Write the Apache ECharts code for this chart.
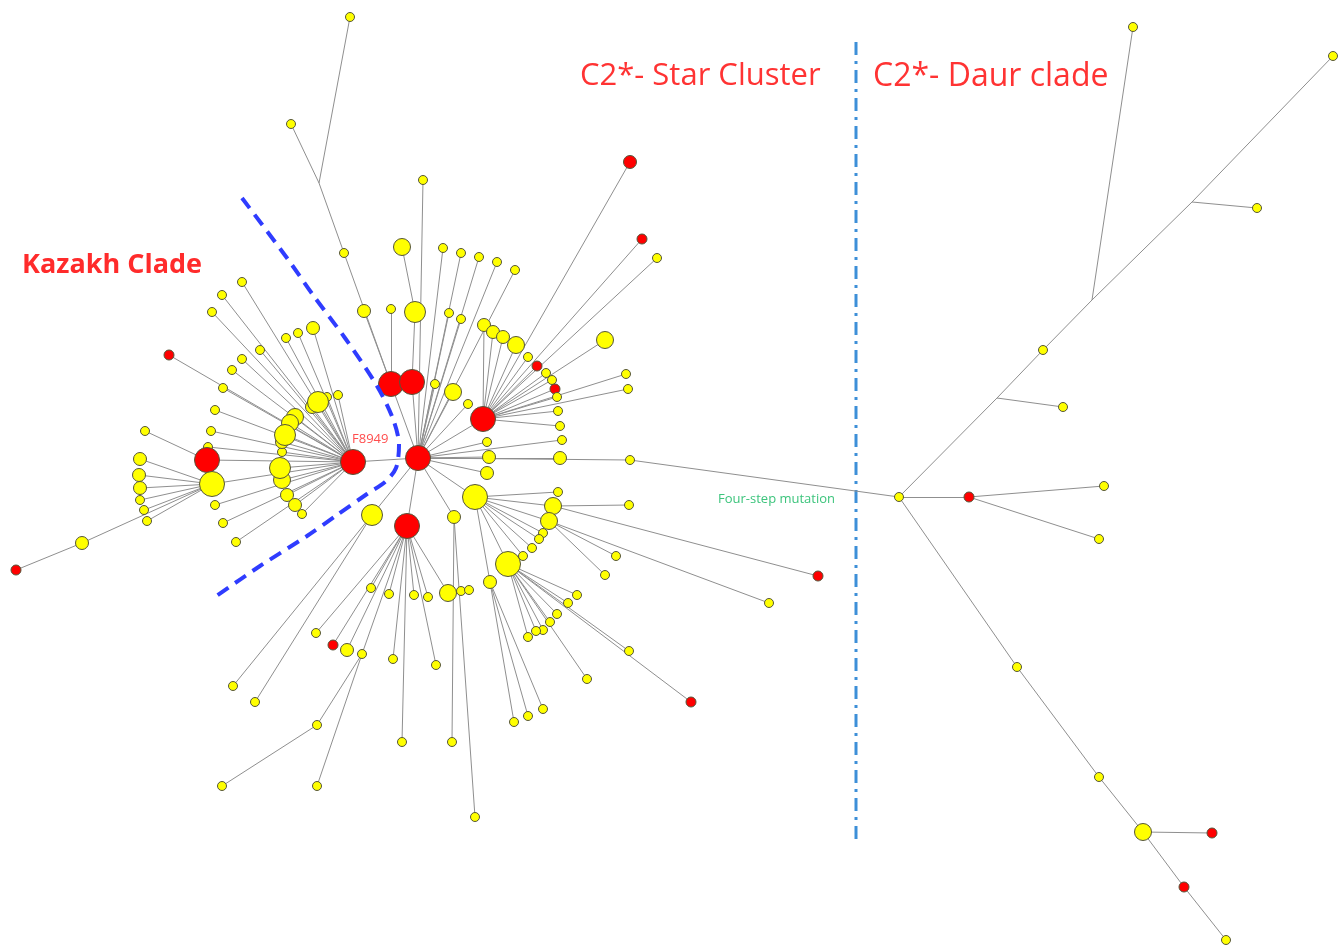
<!DOCTYPE html>
<html>
<head>
<meta charset="utf-8">
<script src="https://cdn.jsdelivr.net/npm/echarts@6/dist/echarts.min.js"></script>
<style>
  html, body { margin: 0; padding: 0; background: #fff; }
  #net { width: 1339px; height: 946px; }
</style>
</head>
<body>
<div id="net"></div>
<script>
// haplotype rows: id, x, y, count (sample frequency), class (Y = yellow, R = red, M = median vector), parent
var starCluster = [
    ['H0', 418, 458, 5, 'R', null],
    ['RP1', 391, 384, 5, 'R', 'H0'],
    ['RP2', 412, 382, 5, 'R', 'H0'],
    ['R3', 483, 419, 5, 'R', 'H0'],
    ['R4', 407, 526, 5, 'R', 'H0'],
    ['Y4', 475, 497, 5, 'Y', 'H0'],
    ['Y5', 508, 564, 5, 'Y', 'Y4'],
    ['YL', 372, 515, 4, 'Y', 'H0'],
    ['YB', 415, 312, 4, 'Y', 'RP2'],
    ['s1', 402, 247, 3, 'Y', 'YB'],
    ['s2', 423, 180, 1, 'Y', 'H0'],
    ['s3', 391, 309, 1, 'Y', 'RP1'],
    ['s4', 364, 311, 2, 'Y', 'RP1'],
    ['s5', 344, 253, 1, 'Y', 'RP1'],
    ['m0', 319, 183, 0, 'M', 's5'],
    ['s6', 350, 17, 1, 'Y', 'm0'],
    ['s7', 291, 124, 1, 'Y', 'm0'],
    ['s8', 443, 248, 1, 'Y', 'H0'],
    ['s9', 461, 253, 1, 'Y', 'H0'],
    ['s10', 479, 257, 1, 'Y', 'H0'],
    ['s11', 497, 262, 1, 'Y', 'H0'],
    ['s12', 515, 270, 1, 'Y', 'H0'],
    ['s13', 449, 313, 1, 'Y', 'H0'],
    ['s14', 461, 319, 1, 'Y', 'H0'],
    ['s15', 453, 392, 3, 'Y', 'H0'],
    ['s16', 435, 384, 1, 'Y', 'H0'],
    ['s17', 468, 404, 1, 'Y', 'H0'],
    ['s18', 484, 325, 2, 'Y', 'R3'],
    ['s19', 493, 332, 2, 'Y', 'R3'],
    ['s20', 503, 337, 2, 'Y', 'R3'],
    ['s21', 516, 345, 3, 'Y', 'R3'],
    ['s22', 528, 357, 1, 'Y', 'R3'],
    ['s23', 537, 366, 1, 'R', 'R3'],
    ['s24', 546, 373, 1, 'Y', 'R3'],
    ['s25', 552, 380, 1, 'Y', 'R3'],
    ['s26', 555, 389, 1, 'R', 'R3'],
    ['s27', 557, 397, 1, 'Y', 'R3'],
    ['s28', 558, 411, 1, 'Y', 'R3'],
    ['s29', 630, 162, 2, 'R', 'R3'],
    ['s30', 642, 239, 1, 'R', 'R3'],
    ['s31', 657, 258, 1, 'Y', 'R3'],
    ['s32', 605, 340, 3, 'Y', 'R3'],
    ['s33', 626, 374, 1, 'Y', 'R3'],
    ['s34', 628, 389, 1, 'Y', 'R3'],
    ['s35', 560, 426, 1, 'Y', 'R3'],
    ['s36', 562, 440, 1, 'Y', 'H0'],
    ['s37', 487, 442, 1, 'Y', 'H0'],
    ['s38', 489, 457, 2, 'Y', 'H0'],
    ['s39', 487, 473, 2, 'Y', 'H0'],
    ['s40', 560, 458, 2, 'Y', 'H0'],
    ['s41', 630, 460, 1, 'Y', 'H0'],
    ['s42', 558, 492, 1, 'Y', 'Y4'],
    ['s43', 553, 506, 3, 'Y', 'Y4'],
    ['s44', 549, 521, 3, 'Y', 'Y4'],
    ['s45', 543, 533, 1, 'Y', 'Y4'],
    ['s46', 539, 539, 1, 'Y', 'Y4'],
    ['s47', 532, 548, 1, 'Y', 'Y4'],
    ['s48', 523, 556, 1, 'Y', 'Y4'],
    ['s49', 629, 505, 1, 'Y', 's43'],
    ['s50', 818, 576, 1, 'R', 's43'],
    ['s51', 769, 603, 1, 'Y', 's44'],
    ['s52', 616, 556, 1, 'Y', 's44'],
    ['s53', 605, 575, 1, 'Y', 's44'],
    ['s54', 577, 595, 1, 'Y', 'Y5'],
    ['s55', 568, 603, 1, 'Y', 'Y5'],
    ['s56', 557, 614, 1, 'Y', 'Y5'],
    ['s57', 550, 622, 1, 'Y', 'Y5'],
    ['s58', 543, 630, 1, 'Y', 'Y5'],
    ['s59', 536, 631, 1, 'Y', 'Y5'],
    ['s60', 528, 637, 1, 'Y', 'Y5'],
    ['s61', 587, 679, 1, 'Y', 'Y5'],
    ['s62', 629, 651, 1, 'Y', 'Y5'],
    ['s63', 691, 702, 1, 'R', 'Y5'],
    ['s64', 490, 582, 2, 'Y', 'Y4'],
    ['s65', 543, 709, 1, 'Y', 's64'],
    ['s66', 528, 716, 1, 'Y', 's64'],
    ['s67', 514, 722, 1, 'Y', 's64'],
    ['s68', 454, 517, 2, 'Y', 'H0'],
    ['s69', 475, 817, 1, 'Y', 's68'],
    ['s70', 452, 742, 1, 'Y', 's68'],
    ['s71', 371, 588, 1, 'Y', 'R4'],
    ['s72', 389, 594, 1, 'Y', 'R4'],
    ['s73', 414, 595, 1, 'Y', 'R4'],
    ['s74', 428, 597, 1, 'Y', 'R4'],
    ['s75', 448, 593, 3, 'Y', 'R4'],
    ['s76', 461, 591, 1, 'Y', 's75'],
    ['s77', 469, 590, 1, 'Y', 's75'],
    ['s78', 316, 633, 1, 'Y', 'R4'],
    ['s79', 333, 645, 1, 'R', 'R4'],
    ['s80', 347, 650, 2, 'Y', 'R4'],
    ['s81', 362, 654, 1, 'Y', 'R4'],
    ['s82', 393, 659, 1, 'Y', 'R4'],
    ['s83', 436, 665, 1, 'Y', 'R4'],
    ['s84', 402, 742, 1, 'Y', 'R4'],
    ['s85', 317, 725, 1, 'Y', 's81'],
    ['s86', 222, 786, 1, 'Y', 's85'],
    ['s87', 317, 786, 1, 'Y', 's81'],
    ['s88', 233, 686, 1, 'Y', 'YL'],
    ['s89', 255, 702, 1, 'Y', 'YL']
];

var kazakhClade = [
    ['F8949', 353, 462, 5, 'R', 'H0'],
    ['k1', 318, 402, 4, 'Y', 'F8949'],
    ['k2', 295, 417, 3, 'Y', 'F8949'],
    ['k3', 290, 423, 3, 'Y', 'F8949'],
    ['k4', 285, 435, 4, 'Y', 'F8949'],
    ['k5', 282, 442, 2, 'Y', 'F8949'],
    ['k6', 282, 452, 1, 'Y', 'F8949'],
    ['k7', 280, 468, 4, 'Y', 'F8949'],
    ['k8', 282, 480, 3, 'Y', 'F8949'],
    ['k9', 287, 495, 2, 'Y', 'F8949'],
    ['k10', 295, 505, 2, 'Y', 'F8949'],
    ['k11', 302, 514, 1, 'Y', 'F8949'],
    ['k12', 327, 397, 1, 'Y', 'F8949'],
    ['k13', 338, 395, 1, 'Y', 'F8949'],
    ['k14', 312, 407, 2, 'Y', 'F8949'],
    ['k15', 242, 282, 1, 'Y', 'F8949'],
    ['k16', 222, 295, 1, 'Y', 'F8949'],
    ['k17', 212, 312, 1, 'Y', 'F8949'],
    ['k18', 286, 338, 1, 'Y', 'F8949'],
    ['k19', 298, 333, 1, 'Y', 'F8949'],
    ['k20', 313, 328, 2, 'Y', 'F8949'],
    ['k21', 260, 350, 1, 'Y', 'F8949'],
    ['k22', 242, 359, 1, 'Y', 'F8949'],
    ['k23', 232, 370, 1, 'Y', 'F8949'],
    ['k24', 223, 388, 1, 'Y', 'F8949'],
    ['k25', 215, 410, 1, 'Y', 'F8949'],
    ['k26', 211, 431, 1, 'Y', 'F8949'],
    ['k27', 169, 355, 1, 'R', 'F8949'],
    ['k28', 208, 447, 1, 'Y', 'F8949'],
    ['KR', 207, 460, 5, 'R', 'F8949'],
    ['KY', 212, 484, 5, 'Y', 'F8949'],
    ['k29', 215, 505, 1, 'Y', 'F8949'],
    ['k30', 223, 523, 1, 'Y', 'F8949'],
    ['k31', 236, 542, 1, 'Y', 'F8949'],
    ['k32', 145, 431, 1, 'Y', 'KR'],
    ['k33', 140, 459, 2, 'Y', 'KY'],
    ['k34', 139, 475, 2, 'Y', 'KY'],
    ['k35', 140, 488, 2, 'Y', 'KY'],
    ['k36', 140, 500, 1, 'Y', 'KY'],
    ['k37', 144, 510, 1, 'Y', 'KY'],
    ['k38', 147, 521, 1, 'Y', 'KY'],
    ['k39', 82, 543, 2, 'Y', 'KY'],
    ['k40', 16, 570, 1, 'R', 'k39']
];

var daurClade = [
    ['D0', 899, 497, 1, 'Y', 's41'],
    ['d1', 969, 497, 1, 'R', 'D0'],
    ['d2', 1104, 486, 1, 'Y', 'd1'],
    ['d3', 1099, 539, 1, 'Y', 'd1'],
    ['dm1', 997, 398, 0, 'M', 'D0'],
    ['d4', 1063, 407, 1, 'Y', 'dm1'],
    ['d5', 1043, 350, 1, 'Y', 'dm1'],
    ['dm2', 1092, 300, 0, 'M', 'd5'],
    ['d6', 1133, 27, 1, 'Y', 'dm2'],
    ['dm3', 1192, 202, 0, 'M', 'dm2'],
    ['d7', 1257, 208, 1, 'Y', 'dm3'],
    ['d8', 1333, 56, 1, 'Y', 'dm3'],
    ['d9', 1017, 667, 1, 'Y', 'D0'],
    ['d10', 1099, 777, 1, 'Y', 'd9'],
    ['d11', 1143, 832, 3, 'Y', 'd10'],
    ['d12', 1212, 833, 1, 'R', 'd11'],
    ['d13', 1184, 887, 1, 'R', 'd11'],
    ['d14', 1226, 940, 1, 'Y', 'd13']
];

// clade boundaries
var kazakhBoundary = [[242, 198], [287, 258], [313, 295], [345, 338], [377, 386], [393, 419], [399, 445], [396, 468], [385, 482],
    [367, 494], [337, 515], [307, 536], [260, 566], [215, 597]];
var daurBoundary = [[856, 42], [856, 840]];

var symbolByCount = [0, 9, 13, 17, 21, 25];
var fillByClass = { Y: '#ffff00', R: '#ff0000', M: 'transparent' };

window.onload = function () {
    var chart = echarts.init(document.getElementById('net'), null, { renderer: 'canvas' });

    var rows = starCluster.concat(kazakhClade, daurClade);
    var nodes = [];
    var links = [];
    // draw smaller nodes first so big haplotypes stay on top
    var ordered = rows.slice().sort(function (a, b) { return a[3] - b[3]; });
    ordered.forEach(function (r) {
        nodes.push({
            name: r[0],
            value: [r[1], r[2]],
            symbolSize: r[4] === 'R' && r[3] === 1 ? 10 : symbolByCount[r[3]],
            itemStyle: {
                color: fillByClass[r[4]],
                borderColor: r[4] === 'M' ? 'transparent' : '#55553a',
                borderWidth: 1
            }
        });
    });
    rows.forEach(function (r) {
        if (r[5]) links.push({ source: r[5], target: r[0] });
    });

    var option = {
        animation: false,
        backgroundColor: '#ffffff',
        grid: { left: 0, right: 0, top: 0, bottom: 0 },
        xAxis: { type: 'value', min: 0, max: 1339, show: false },
        yAxis: { type: 'value', min: 0, max: 946, inverse: true, show: false },
        series: [
            {
                type: 'line',
                data: kazakhBoundary,
                smooth: 0.3,
                symbol: 'none',
                silent: true,
                lineStyle: { color: '#2f3cff', width: 4, type: [13, 8] },
                z: 4
            },
            {
                type: 'line',
                data: daurBoundary,
                symbol: 'none',
                silent: true,
                lineStyle: { color: '#3d8fd8', width: 3, type: [13, 6, 3, 6] },
                z: 1
            },
            {
                type: 'graph',
                coordinateSystem: 'cartesian2d',
                layout: 'none',
                silent: true,
                symbol: 'circle',
                data: nodes,
                links: links,
                lineStyle: { color: '#8f8f8f', width: 1, opacity: 1, curveness: 0 },
                label: { show: false },
                z: 3
            }
        ],
        graphic: [
            { type: 'text', left: 22, top: 252, z: 10, style: { text: 'Kazakh Clade', fill: '#ff2b2b', font: 'bold 27px "Open Sans"' } },
            { type: 'text', left: 580, top: 61, z: 10, style: { text: 'C2*- Star Cluster', fill: '#ff3333', font: '31px "Open Sans"' } },
            { type: 'text', left: 873, top: 61, z: 10, style: { text: 'C2*- Daur clade', fill: '#ff3333', font: '32px "Open Sans"' } },
            { type: 'text', left: 718, top: 493, z: 10, style: { text: 'Four-step mutation', fill: '#3cc47c', font: '13px "Open Sans"' } },
            { type: 'text', left: 352, top: 433, z: 10, style: { text: 'F8949', fill: '#ff4d4d', font: '13px "Open Sans"' } }
        ]
    };
    chart.setOption(option);
};
</script>
</body>
</html>
